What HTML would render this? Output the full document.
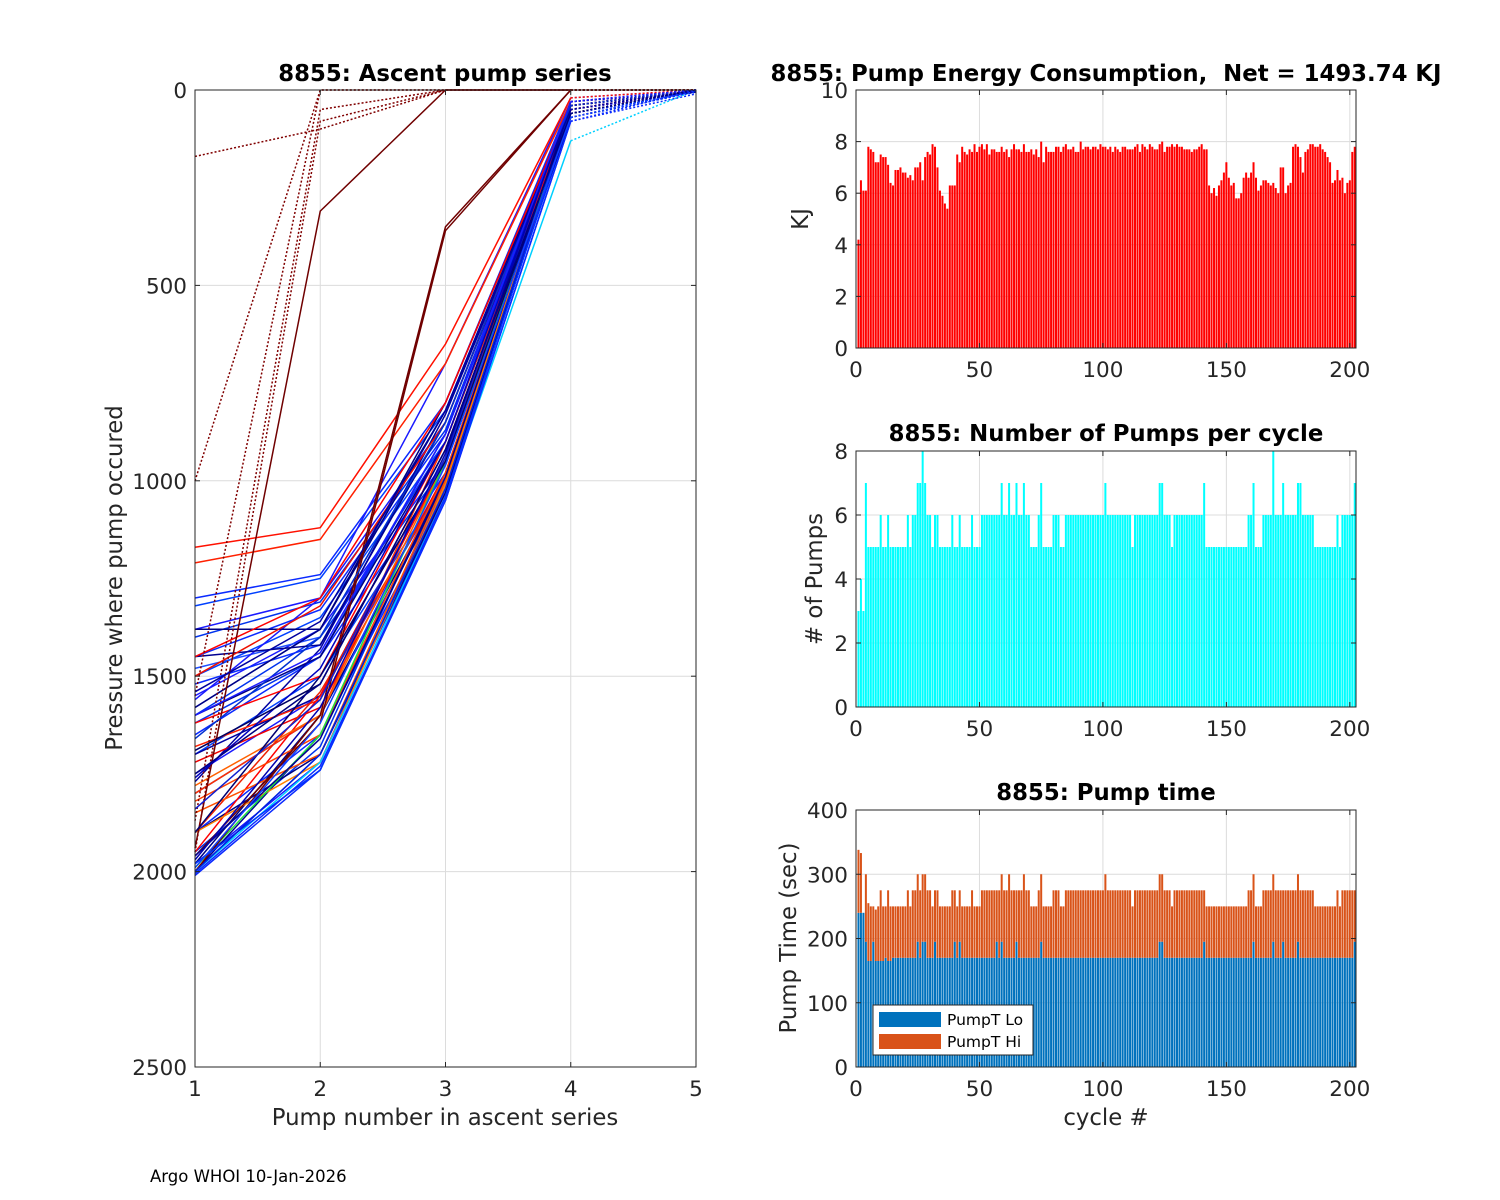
<!DOCTYPE html>
<html><head><meta charset="utf-8"><style>
body{margin:0;background:#fff;}
svg{display:block;font-family:"DejaVu Sans","Liberation Sans",sans-serif;}
text{white-space:pre;}
</style></head><body>
<svg id="fig" width="1500" height="1200" viewBox="0 0 1500 1200"></svg>
<script>
const energy=[4.2,6.5,6.1,6.1,7.8,7.7,7.6,7.2,7.2,7.5,7.4,7.4,7.1,6.4,6.3,6.9,6.9,7.0,6.8,6.8,6.6,6.7,6.5,7.0,7.0,7.2,6.5,7.4,7.6,7.5,7.9,7.8,7.0,6.1,5.9,5.6,5.4,6.3,6.3,6.3,7.5,7.2,7.8,7.6,7.5,7.7,7.6,7.9,7.6,7.8,7.9,7.7,7.9,7.5,7.7,7.7,7.6,7.6,7.8,7.6,7.7,7.4,7.7,7.9,7.7,7.7,7.6,7.9,7.6,7.6,7.7,7.5,7.7,7.4,8.0,7.2,7.8,7.6,7.6,7.6,7.8,7.8,7.6,7.8,7.9,7.7,7.7,7.8,7.6,7.6,8.0,7.7,7.8,7.8,7.7,7.8,7.8,7.7,7.9,7.8,7.8,7.7,7.8,7.6,7.8,7.7,7.6,7.8,7.8,7.7,7.7,7.7,7.8,7.9,7.6,7.9,7.8,7.7,7.9,7.8,7.7,7.7,7.9,8.0,7.6,7.8,7.8,7.9,7.8,7.9,7.8,7.8,7.7,7.7,7.7,7.6,7.7,7.7,7.8,7.9,7.7,7.7,6.3,6.0,6.2,5.9,6.3,6.5,6.8,7.2,6.6,6.3,6.4,5.8,5.8,6.0,6.6,6.8,6.6,6.8,7.2,6.6,6.1,6.3,6.5,6.5,6.4,6.3,6.4,6.2,6.0,7.0,7.0,6.0,6.3,6.4,7.8,7.9,7.8,7.4,6.8,7.6,7.7,7.9,7.9,7.8,7.8,7.9,7.7,7.6,7.4,7.2,6.4,6.5,6.9,6.5,6.6,6.0,6.4,6.5,7.6,7.8];
const pumps=[3,4,3,7,5,5,5,5,5,6,5,5,6,5,5,5,5,5,5,5,6,5,6,6,7,7,8,7,6,6,5,6,6,5,5,5,5,5,6,5,5,6,5,5,5,5,6,5,5,5,6,6,6,6,6,6,6,6,7,6,6,7,6,6,7,6,6,7,6,6,5,5,5,6,7,5,5,5,5,6,6,6,5,5,6,6,6,6,6,6,6,6,6,6,6,6,6,6,6,6,7,6,6,6,6,6,6,6,6,6,6,5,6,6,6,6,6,6,6,6,6,6,7,7,6,6,6,5,6,6,6,6,6,6,6,6,6,6,6,6,7,5,5,5,5,5,5,5,5,5,5,5,5,5,5,5,5,5,6,6,7,5,5,5,6,6,6,6,8,6,6,6,7,6,6,6,6,6,7,7,6,6,6,6,6,5,5,5,5,5,5,5,5,5,6,5,6,6,6,6,6,7];
const pumpLo=[240,240,240,195,165,165,195,165,165,165,165,170,165,165,170,170,170,170,170,170,170,170,170,170,195,170,195,195,170,170,170,195,170,170,170,170,170,170,170,195,170,195,170,170,170,170,170,170,170,170,170,170,170,170,170,170,195,170,195,170,170,170,170,170,195,170,170,170,170,170,170,170,170,170,195,170,170,170,170,170,170,170,170,170,170,170,170,170,170,170,170,170,170,170,170,170,170,170,170,170,170,170,170,170,170,170,170,170,170,170,170,170,170,170,170,170,170,170,170,170,170,170,195,195,170,170,170,170,170,170,170,170,170,170,170,170,170,170,170,170,195,170,170,170,170,170,170,170,170,170,170,170,170,170,170,170,170,170,170,170,195,170,170,170,170,170,170,170,195,170,170,170,195,170,170,170,170,170,195,170,170,170,170,170,170,170,170,170,170,170,170,170,170,170,170,170,170,170,170,170,170,195];
const pumpHi=[98,93,0,105,90,85,55,80,85,110,85,80,110,85,80,80,80,80,80,80,105,80,105,105,105,105,105,105,105,105,80,80,105,80,80,80,80,80,105,80,80,80,80,80,80,80,105,80,80,80,105,105,105,105,105,105,80,105,105,105,105,130,105,105,80,105,105,130,105,105,80,80,80,105,105,80,80,80,80,105,105,105,80,80,105,105,105,105,105,105,105,105,105,105,105,105,105,105,105,105,130,105,105,105,105,105,105,105,105,105,105,80,105,105,105,105,105,105,105,105,105,105,105,105,105,105,105,80,105,105,105,105,105,105,105,105,105,105,105,105,80,80,80,80,80,80,80,80,80,80,80,80,80,80,80,80,80,80,105,105,105,80,80,80,105,105,105,105,105,105,105,105,80,105,105,105,105,105,105,105,105,105,105,105,105,80,80,80,80,80,80,80,80,80,105,80,105,105,105,105,105,80];
const p1=[1300,1320,1380,1400,1450,1500,1550,1600,1650,1700,1750,1800,1900,2000,2010,1980,1950,1480,1520,1560,1620,1580,1380,1450,1600,1700,1980,2000,1900,1770,1580,1170,1210,1450,1500,1620,1680,1720,1800,1950,1900,1780,1850,1900,1820,2000,1990,1940,1960,2000,1950,1870,1000,170,1550,1900,1760,1690,1840,1980,2000,1960,1990,1970,2005,1660,1540,1600,1750];
const p2=[1240,1250,1300,1310,1330,1350,1380,1400,1450,1500,1550,1600,1650,1700,1740,1720,1680,1400,1420,1300,1450,1380,1380,1420,1450,1550,1600,1650,1700,1430,1380,1120,1150,1300,1320,1500,1560,1580,1600,1550,1540,1600,1700,1720,1650,1720,1650,310,1620,1600,80,50,0,100,0,1500,1480,1520,1560,1740,1700,1660,1620,1580,1730,1400,1360,1440,1520];
const p3=[800,820,850,870,880,900,950,960,980,1000,1000,1020,1030,1040,1050,1000,980,850,900,700,880,820,800,850,900,950,1000,1000,1030,830,820,650,700,800,850,900,950,980,900,950,1000,950,1000,1010,980,1040,950,0,360,350,0,0,0,0,0,950,900,920,940,1040,1020,990,960,930,1050,850,820,880,920];
const p4=[30,40,50,40,50,60,60,30,50,40,60,70,50,60,80,50,70,40,30,20,40,50,40,50,60,30,40,70,60,50,40,20,30,40,40,50,40,50,60,40,50,50,60,40,50,130,60,0,0,0,0,0,0,0,0,50,40,60,30,60,50,40,70,30,80,40,50,30,60];
const p5=[0,5,5,0,5,0,5,0,5,0,5,5,0,5,10,5,5,0,0,0,0,0,0,0,0,0,0,0,0,0,0,0,0,0,0,0,0,0,0,0,0,0,0,0,0,0,0,0,0,0,0,0,0,0,0,0,0,0,0,5,0,5,0,5,0,0,0,0,0];
const lineColor=["#0a2aff","#0040ff","#1a1aff","#0033ee","#0a2aff","#0040ff","#1a1aff","#0033ee","#0a2aff","#0040ff","#1a1aff","#0033ee","#0a2aff","#0040ff","#0a2aff","#1a1aff","#0033ee","#2050ff","#0a2aff","#1a1aff","#0033ee","#2050ff","#000080","#000090","#000080","#0000a0","#000080","#000090","#000080","#0000a0","#000080","#ff1000","#ff2000","#ff0000","#ee1000","#ff0000","#ff2000","#ee0000","#ff3000","#ff0000","#ee2000","#ff6000","#ff5000","#ff8000","#ff4000","#00d0ff","#20e040","#700000","#700000","#700000","#800000","#800000","#800000","#800000","#800000","#000070","#0000c0","#000060","#1020d0","#0030ff","#0020e0","#000090","#1040ff","#0000b0","#0a2aff","#0030d0","#0000a0","#1a1aff","#000080"];
const lineDotted=[0,0,0,0,0,0,0,0,0,0,0,0,0,0,0,0,0,0,0,0,0,0,0,0,0,0,0,0,0,0,0,0,0,0,0,0,0,0,0,0,0,0,0,0,0,0,0,0,0,0,1,1,1,1,1,0,0,0,0,0,0,0,0,0,0,0,0,0,0];
const leftYTicks=[0,500,1000,1500,2000,2500];
const leftXTicks=[1,2,3,4,5];
const cycleTicks=[0,50,100,150,200];
const energyTicks=[0,2,4,6,8,10];
const pumpTicks=[0,2,4,6,8];
const timeTicks=[0,100,200,300,400];

const TS=22.8, TK=21.5;
const NS="http://www.w3.org/2000/svg";
const svg=document.getElementById('fig');
function mk(tag,attrs,parent){const e=document.createElementNS(NS,tag);for(const k in attrs)e.setAttribute(k,attrs[k]);(parent||svg).appendChild(e);return e;}
function txt(s,x,y,size,anchor,parent,bold,rot){const t=mk('text',{x:x,y:y,'font-size':size,'text-anchor':anchor||'middle',fill:bold?'#000':'#262626'},parent);if(bold)t.setAttribute('font-weight','bold');if(rot)t.setAttribute('transform','rotate(-90 '+x+' '+y+')');t.textContent=s;return t;}

function axes(name,x0,x1,y0,y1,xmin,xmax,ymin,ymax,xt,yt,rev){
  const g=mk('g',{});
  
  
  const sx=v=>x0+(v-xmin)/(xmax-xmin)*(x1-x0);
  const sy=rev?(v=>y0+(v-ymin)/(ymax-ymin)*(y1-y0)):(v=>y1-(v-ymin)/(ymax-ymin)*(y1-y0));
  mk('rect',{x:x0,y:y0,width:x1-x0,height:y1-y0,fill:'#fff'},g);
  xt.forEach(v=>{mk('line',{x1:sx(v),x2:sx(v),y1:y0,y2:y1,stroke:'#dcdcdc','stroke-width':1},g);});
  yt.forEach(v=>{mk('line',{x1:x0,x2:x1,y1:sy(v),y2:sy(v),stroke:'#dcdcdc','stroke-width':1},g);});
  const plot=mk('g',{},g);
  const frame=mk('g',{},g);
  mk('rect',{x:x0,y:y0,width:x1-x0,height:y1-y0,fill:'none',stroke:'#262626','stroke-width':1},frame);
  xt.forEach(v=>{mk('line',{x1:sx(v),x2:sx(v),y1:y1,y2:y1-5,stroke:'#262626'},frame);mk('line',{x1:sx(v),x2:sx(v),y1:y0,y2:y0+5,stroke:'#262626'},frame);
    const t=txt(String(v),sx(v),y1+29,TK,'middle',frame);});
  yt.forEach(v=>{mk('line',{x1:x0,x2:x0+5,y1:sy(v),y2:sy(v),stroke:'#262626'},frame);mk('line',{x1:x1,x2:x1-5,y1:sy(v),y2:sy(v),stroke:'#262626'},frame);
    const t=txt(String(v),x0-8,sy(v)+8,TK,'end',frame);});
  return {g,plot,frame,sx,sy};
}

// Left chart
const L=axes('ascent-pump-axes',195,696,90,1067,1,5,0,2500,leftXTicks,leftYTicks,true);
for(let i=0;i<p1.length;i++){
  const ps=[p1[i],p2[i],p3[i],p4[i],p5[i]];
  let d='';
  for(let k=0;k<4;k++)d+=(k?'L':'M')+L.sx(k+1)+' '+L.sy(ps[k])+' ';
  const pl=mk('path',{d:d,fill:'none',stroke:lineColor[i],'stroke-width':1.5},L.plot);
  if(lineDotted[i])pl.setAttribute('stroke-dasharray','2 2');
  
  
  const s=mk('line',{x1:L.sx(4),y1:L.sy(ps[3]),x2:L.sx(5),y2:L.sy(ps[4]),stroke:lineColor[i],'stroke-width':1.5,'stroke-dasharray':'2 2'},L.plot);
  
  
}
let t=txt('8855: Ascent pump series',445,81,TS,'middle',null,true);
t=txt('Pump number in ascent series',445,1125,TS,'middle');
t=txt('Pressure where pump occured',122,578,TS,'middle',null,false,true);

// Energy
const xmaxC=202.5;
const E=axes('energy-axes',856,1356,90,348,0,xmaxC,0,10,cycleTicks,energyTicks,false);
energy.forEach((v,i)=>{const b=mk('rect',{x:E.sx(i+1)-1,y:E.sy(v),width:2,height:E.sy(0)-E.sy(v),fill:'#ff0000'},E.plot);
  });
t=txt('8855: Pump Energy Consumption,  Net = 1493.74 KJ',1106,81,TS,'middle',null,true);
t=txt('KJ',808,219,TS,'middle',null,false,true);

// Pumps
const P=axes('pumps-axes',856,1356,451,707,0,xmaxC,0,8,cycleTicks,pumpTicks,false);
pumps.forEach((v,i)=>{const b=mk('rect',{x:P.sx(i+1)-1,y:P.sy(v),width:2,height:P.sy(0)-P.sy(v),fill:'#00ffff'},P.plot);
  });
t=txt('8855: Number of Pumps per cycle',1106,441,TS,'middle',null,true);
t=txt('# of Pumps',822,579,TS,'middle',null,false,true);

// Pump time
const T=axes('pump-time-axes',856,1356,810,1067,0,xmaxC,0,400,cycleTicks,timeTicks,false);
pumpLo.forEach((v,i)=>{
  const h=pumpHi[i];
  const b=mk('rect',{x:T.sx(i+1)-1,y:T.sy(v),width:2,height:T.sy(0)-T.sy(v),fill:'#0072bd'},T.plot);
  
  const c=mk('rect',{x:T.sx(i+1)-1,y:T.sy(v+h),width:2,height:T.sy(v)-T.sy(v+h),fill:'#d95319'},T.plot);
  
});
t=txt('8855: Pump time',1106,800,TS,'middle',null,true);
t=txt('cycle #',1106,1125,TS,'middle');
t=txt('Pump Time (sec)',796,938,TS,'middle',null,false,true);
const lg=mk('g',{});


mk('rect',{x:873,y:1005,width:160,height:50,fill:'#fff',stroke:'#262626'},lg);
const le1=mk('g',{},lg);


mk('rect',{x:879,y:1012,width:62,height:15,fill:'#0072bd'},le1);
txt('PumpT Lo',947,1025,15.5,'start',le1).setAttribute('fill','#000');
const le2=mk('g',{},lg);


mk('rect',{x:879,y:1034,width:62,height:15,fill:'#d95319'},le2);
txt('PumpT Hi',947,1047,15.5,'start',le2).setAttribute('fill','#000');

t=txt('Argo WHOI 10-Jan-2026',150,1182,16.5,'start');t.setAttribute('fill','#000');
</script>
</body></html>
